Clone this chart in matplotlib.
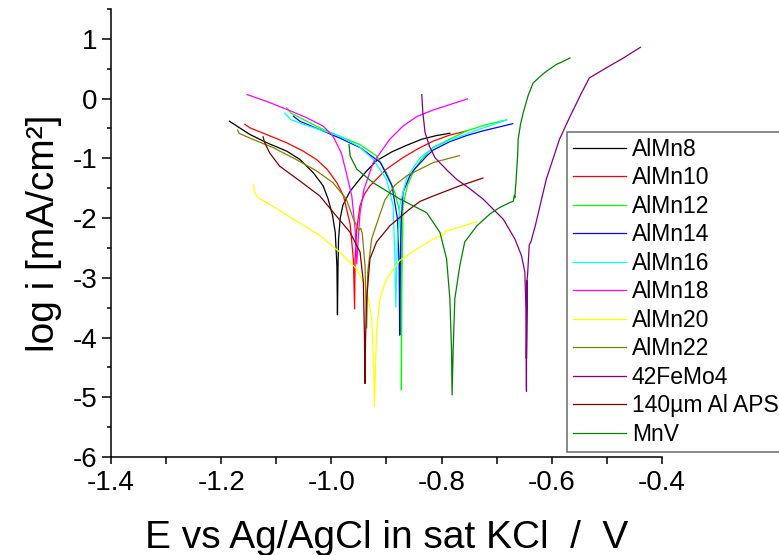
import matplotlib
matplotlib.use("Agg")
import matplotlib.pyplot as plt
from matplotlib.ticker import MultipleLocator

plt.rcParams['font.family'] = ['Liberation Sans', 'DejaVu Sans']
plt.rcParams['axes.unicode_minus'] = False

# potential (V) and log current density
e_almn8 = [-1.185, -1.148, -1.117, -1.081, -1.057, -1.033, -1.015, -1.006, -0.998, -0.993,
           -0.990, -0.989, -0.988, -0.987, -0.984, -0.979, -0.966, -0.954, -0.936, -0.918,
           -0.890, -0.863, -0.836, -0.810, -0.785]
i_almn8 = [-0.38, -0.60, -0.74, -0.88, -1.02, -1.24, -1.46, -1.68, -1.95, -2.24,
           -2.80, -3.62, -2.80, -2.35, -2.00, -1.78, -1.55, -1.41, -1.21, -1.04,
           -0.89, -0.78, -0.68, -0.62, -0.58]

e_almn10 = [-1.157, -1.148, -1.118, -1.081, -1.051, -1.027, -1.008, -0.990, -0.978, -0.966,
            -0.960, -0.958, -0.957, -0.954, -0.948, -0.940, -0.930, -0.900, -0.872, -0.845,
            -0.815, -0.785, -0.756]
i_almn10 = [-0.43, -0.49, -0.60, -0.74, -0.88, -1.02, -1.18, -1.41, -1.63, -2.10,
            -2.70, -3.52, -2.70, -2.18, -1.79, -1.60, -1.46, -1.18, -1.00, -0.85,
            -0.71, -0.61, -0.545]

e_almn12 = [-1.081, -1.074, -1.057, -1.021, -0.985, -0.948, -0.918, -0.900, -0.885, -0.876,
            -0.874, -0.873, -0.873, -0.872, -0.870, -0.862, -0.850, -0.835, -0.816, -0.785,
            -0.755, -0.720, -0.682]
i_almn12 = [-0.155, -0.24, -0.32, -0.49, -0.63, -0.77, -0.96, -1.24, -1.57, -1.90,
            -2.46, -3.50, -4.88, -3.00, -1.79, -1.45, -1.20, -1.00, -0.82, -0.68,
            -0.54, -0.44, -0.355]

e_almn14 = [-1.069, -1.057, -1.021, -0.985, -0.948, -0.911, -0.890, -0.880, -0.877, -0.876,
            -0.875, -0.873, -0.870, -0.858, -0.851, -0.827, -0.815, -0.785, -0.755, -0.725,
            -0.671]
i_almn14 = [-0.295, -0.38, -0.52, -0.66, -0.82, -1.07, -1.46, -2.02, -2.80, -3.96,
            -2.80, -2.00, -1.57, -1.30, -1.20, -0.96, -0.86, -0.72, -0.62, -0.54,
            -0.42]

e_almn16 = [-1.085, -1.074, -1.057, -1.021, -0.985, -0.950, -0.924, -0.900, -0.888, -0.885,
            -0.883, -0.881, -0.876, -0.863, -0.839, -0.815, -0.785, -0.740, -0.683]
i_almn16 = [-0.24, -0.35, -0.41, -0.52, -0.63, -0.80, -1.02, -1.35, -1.79, -2.60,
            -3.49, -2.60, -1.79, -1.32, -0.99, -0.82, -0.70, -0.54, -0.36]

e_almn18 = [-1.153, -1.118, -1.081, -1.045, -1.015, -0.997, -0.982, -0.973, -0.963, -0.957,
            -0.954, -0.951, -0.948, -0.941, -0.924, -0.894, -0.870, -0.845, -0.815, -0.785,
            -0.753]
i_almn18 = [0.067, -0.045, -0.18, -0.32, -0.46, -0.63, -0.91, -1.24, -1.63, -2.18,
            -2.77, -2.30, -1.91, -1.52, -1.07, -0.68, -0.46, -0.30, -0.19, -0.10,
            -0.005]

e_almn20 = [-1.141, -1.140, -1.133, -1.103, -1.069, -1.021, -0.985, -0.954, -0.936, -0.927,
            -0.923, -0.922, -0.920, -0.918, -0.912, -0.900, -0.876, -0.845, -0.815, -0.795,
            -0.793, -0.770, -0.736]
i_almn20 = [-1.45, -1.56, -1.66, -1.82, -2.02, -2.29, -2.57, -2.85, -3.18, -3.68,
            -4.50, -5.16, -4.50, -3.90, -3.35, -3.02, -2.71, -2.52, -2.35, -2.27,
            -2.22, -2.16, -2.06]

e_almn22 = [-1.170, -1.168, -1.143, -1.106, -1.064, -1.027, -0.997, -0.973, -0.960, -0.950,
            -0.947, -0.944, -0.939, -0.936, -0.934, -0.927, -0.915, -0.903, -0.885, -0.863,
            -0.815, -0.768]
i_almn22 = [-0.53, -0.58, -0.68, -0.82, -1.02, -1.21, -1.41, -1.68, -2.02, -2.20,
            -2.17, -2.25, -2.80, -3.84, -2.90, -2.35, -2.02, -1.70, -1.45, -1.29,
            -1.07, -0.955]

e_femo = [-0.836, -0.834, -0.830, -0.822, -0.812, -0.790, -0.773, -0.750, -0.725, -0.688,
          -0.667, -0.655, -0.649, -0.647, -0.646, -0.6455, -0.646, -0.645, -0.644, -0.642,
          -0.641, -0.638, -0.630, -0.610, -0.586, -0.567, -0.546, -0.532, -0.502, -0.470,
          -0.439]
i_femo = [0.067, -0.24, -0.57, -0.80, -0.99, -1.20, -1.35, -1.50, -1.68, -2.02,
          -2.35, -2.63, -2.90, -3.50, -4.90, -3.05, -4.35, -3.05, -2.95, -2.63,
          -2.45, -2.40, -2.13, -1.35, -0.68, -0.30, 0.095, 0.345, 0.51, 0.68,
          0.86]

e_aps = [-1.124, -1.121, -1.112, -1.094, -1.057, -1.021, -0.996, -0.966, -0.948, -0.942,
         -0.940, -0.939, -0.938, -0.936, -0.930, -0.918, -0.894, -0.858, -0.839, -0.815,
         -0.770, -0.725]
i_aps = [-0.64, -0.74, -0.91, -1.13, -1.38, -1.63, -1.91, -2.24, -2.57, -3.07,
         -4.00, -4.77, -4.00, -3.35, -2.68, -2.40, -2.13, -1.85, -1.72, -1.63,
         -1.47, -1.33]

e_mnv = [-0.968, -0.966, -0.954, -0.924, -0.876, -0.827, -0.803, -0.791, -0.785, -0.782,
         -0.781, -0.779, -0.776, -0.767, -0.758, -0.736, -0.712, -0.694, -0.676, -0.670,
         -0.668, -0.667, -0.666, -0.665, -0.664, -0.662, -0.661, -0.657, -0.652, -0.643,
         -0.634, -0.620, -0.610, -0.592, -0.580, -0.567]
i_mnv = [-0.77, -0.96, -1.18, -1.41, -1.68, -1.91, -2.24, -2.68, -3.35, -4.20,
         -4.96, -4.20, -3.35, -2.80, -2.40, -2.13, -1.93, -1.82, -1.74, -1.72,
         -1.62, -1.66, -1.50, -1.40, -1.24, -0.95, -0.68, -0.44, -0.24, 0.05,
         0.26, 0.38, 0.455, 0.57, 0.62, 0.68]

labels = ['AlMn8', 'AlMn10', 'AlMn12', 'AlMn14', 'AlMn16', 'AlMn18', 'AlMn20',
          'AlMn22', '42FeMo4', '140µm Al APS', 'MnV']
colors = ['#000000', '#ff0000', '#00ff00', '#0000ff', '#00ffff', '#ff00ff', '#ffff00',
          '#808000', '#800080', '#800000', '#008000']
curves = [(e_almn8, i_almn8), (e_almn10, i_almn10), (e_almn12, i_almn12),
          (e_almn14, i_almn14), (e_almn16, i_almn16), (e_almn18, i_almn18),
          (e_almn20, i_almn20), (e_almn22, i_almn22), (e_femo, i_femo),
          (e_aps, i_aps), (e_mnv, i_mnv)]

fig = plt.figure(figsize=(7.79, 5.55), dpi=100)
ax = fig.add_axes([111 / 779, 1 - 457 / 555, 551 / 779, 448 / 555])

for (e, i), lab, c in zip(curves, labels, colors):
    ax.plot(e, i, color=c, lw=0.9, label=lab)

ax.set_xlim(-1.4, -0.4)
ax.set_ylim(-6, 1.5)
ax.xaxis.set_major_locator(MultipleLocator(0.2))
ax.xaxis.set_minor_locator(MultipleLocator(0.1))
ax.yaxis.set_major_locator(MultipleLocator(1))
ax.yaxis.set_minor_locator(MultipleLocator(0.5))
ax.xaxis.set_major_formatter(plt.FuncFormatter(lambda v, p: '%.1f' % v))

ax.spines['top'].set_visible(False)
ax.spines['right'].set_visible(False)
for s in ['left', 'bottom']:
    ax.spines[s].set_linewidth(1.1)
ax.tick_params(axis='both', which='both', direction='out', width=1.1, labelsize=20)
ax.tick_params(axis='x', which='both', length=5, pad=4)
ax.tick_params(axis='y', which='major', length=6.5, pad=3)
ax.tick_params(axis='y', which='minor', length=3)

ax.set_xlabel('E vs Ag/AgCl in sat KCl  /  V', fontsize=28, labelpad=18)
ax.set_ylabel('log i [mA/cm²]', fontsize=28, labelpad=8)

# legend box runs off the right edge of the figure, as in the original
leg = ax.legend(loc='upper left', bbox_to_anchor=(567 / 779, 0, 0.3, 1 - 132 / 555),
                bbox_transform=fig.transFigure, mode='expand', borderaxespad=0,
                fontsize=16.5, frameon=True, fancybox=False, handlelength=2.3,
                handletextpad=0.27, labelspacing=0.24, borderpad=0.26)
leg.get_frame().set_edgecolor('#555555')
leg.get_frame().set_linewidth(1.2)

fig.savefig('out.png', dpi=100)
